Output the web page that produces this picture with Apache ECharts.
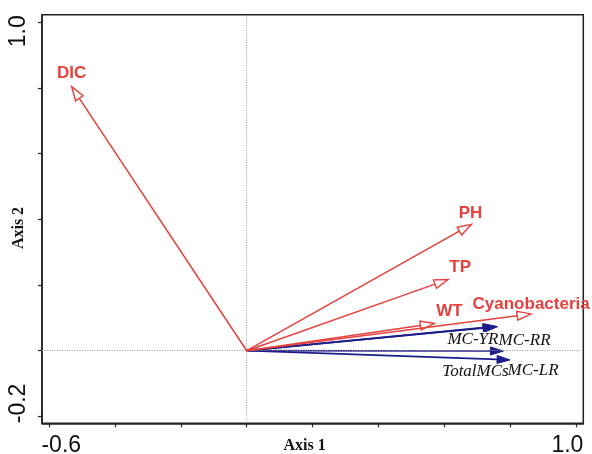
<!DOCTYPE html>
<html>
<head>
<meta charset="utf-8">
<script src="https://cdn.jsdelivr.net/npm/echarts@6/dist/echarts.min.js"></script>
<style>html,body{margin:0;padding:0;background:#fff;}#c{width:592px;height:454px;}</style>
</head>
<body>
<div id="c"></div>
<script>
// ---- data ----
const envNames = ['DIC', 'PH', 'TP', 'WT', 'Cyanobacteria'];
const envAxis1 = [-0.532, 0.683, 0.612, 0.570, 0.864];
const envAxis2 = [0.804, 0.385, 0.217, 0.083, 0.112];

const mcNames = ['MC-YR', 'MC-RR', 'TotalMCs', 'MC-LR'];
const mcAxis1 = [0.757, 0.762, 0.780, 0.800];
const mcAxis2 = [0.074, 0.073, -0.001, -0.028];

const xTickValues = [-0.6, -0.4, -0.2, 0.0, 0.2, 0.4, 0.6, 0.8, 1.0];
const xTickLabels = [-0.6, 1.0];
const yTickValues = [-0.2, 0.0, 0.2, 0.4, 0.6, 0.8, 1.0];
const yTickLabels = [-0.2, 1.0];

// ---- layout / style (pixels) ----
const envLabelOffsets = [[0, -13.5], [-1, -11], [12, -12], [15, -12], [0, -10]];
const mcLabelOffsets = [[-23, 13.5], [27, 13.5], [-28, 20], [23, 11]];

const RED = '#e5413d';
const BLUE = '#1d1d8a';

function makeRender(names, offsets, color, open, font) {
  return function (params, api) {
    const i = params.dataIndex;
    const o = api.coord([0, 0]);
    const e = api.coord([api.value(0), api.value(1)]);
    const dx = e[0] - o[0], dy = e[1] - o[1];
    const len = Math.sqrt(dx * dx + dy * dy);
    const ux = dx / len, uy = dy / len;
    const nx = -uy, ny = ux;
    const hl = open ? 14 : 13, hw = open ? 4.5 : 4;
    const bx = e[0] - ux * hl, by = e[1] - uy * hl;
    const off = offsets[i];
    return {
      type: 'group',
      children: [
        { type: 'line', shape: { x1: o[0], y1: o[1], x2: bx, y2: by },
          style: { stroke: color, lineWidth: open ? 1.5 : 1.7 } },
        { type: 'polygon', shape: { points: [[e[0], e[1]], [bx + nx * hw, by + ny * hw], [bx - nx * hw, by - ny * hw]] },
          style: { fill: open ? '#fff' : color, stroke: color, lineWidth: open ? 1.4 : 1 } },
        { type: 'text', style: { text: names[i], x: e[0] + off[0], y: e[1] + off[1],
          align: 'center', verticalAlign: 'middle', font: font, fill: open ? color : '#111' } }
      ]
    };
  };
}

const chart = echarts.init(document.getElementById('c'), null, { renderer: 'canvas' });

const option = {
  animation: false,
  backgroundColor: '#fff',
  grid: { left: 42, right: 8.7, top: 14.7, bottom: 30.7, containLabel: false, outerBoundsMode: 'none',
    show: true, borderColor: '#222', borderWidth: 1.5 },
  xAxis: {
    type: 'value', min: -0.622, max: 1.0225,
    name: 'Axis 1', nameLocation: 'middle', nameGap: 15, nameMoveOverlap: false,
    nameTextStyle: { fontFamily: 'Liberation Serif', fontWeight: 'bold', fontSize: 16, color: '#111', padding: [0, 16, 0, 0] },
    axisLine: { show: true, onZero: false, lineStyle: { color: '#222', width: 1.5 } },
    axisTick: { show: true, length: 4, customValues: xTickValues, lineStyle: { color: '#222', width: 1.2 } },
    axisLabel: {
      show: true, customValues: xTickLabels, margin: 11,
      formatter: function (v) { return (v < 0 ? '{l|' : '{r|') + v.toFixed(1) + '}'; },
      rich: {
        l: { fontFamily: 'Liberation Sans', fontSize: 23, color: '#111', padding: [0, 0, 0, 24] },
        r: { fontFamily: 'Liberation Sans', fontSize: 23, color: '#111', padding: [0, 17, 0, 0] }
      }
    },
    splitLine: { show: false }
  },
  yAxis: {
    type: 'value', min: -0.221, max: 1.023,
    name: 'Axis 2', nameLocation: 'middle', nameGap: 15, nameMoveOverlap: false,
    nameTextStyle: { fontFamily: 'Liberation Serif', fontWeight: 'bold', fontSize: 16, color: '#111', padding: [0, 18, 0, 0] },
    axisLine: { show: true, onZero: false, lineStyle: { color: '#222', width: 1.5 } },
    axisTick: { show: true, length: 4, customValues: yTickValues, lineStyle: { color: '#222', width: 1.2 } },
    axisLabel: {
      show: true, customValues: yTickLabels, margin: 12, rotate: 90,
      formatter: function (v) { return (v < 0 ? '{l|' : '{r|') + v.toFixed(1) + '}'; },
      rich: {
        l: { fontFamily: 'Liberation Sans', fontSize: 23, color: '#111', padding: [0, 0, 0, 26] },
        r: { fontFamily: 'Liberation Sans', fontSize: 23, color: '#111', padding: [0, 18, 0, 0] }
      }
    },
    splitLine: { show: false }
  },
  series: [
    {
      type: 'scatter', data: [[0, 0]], symbolSize: 0, silent: true, z: 1,
      markLine: {
        silent: true, symbol: 'none', animation: false,
        label: { show: false },
        lineStyle: { type: [1, 1.5], color: '#9a9a9a', width: 1 },
        data: [{ xAxis: 0 }, { yAxis: 0 }]
      }
    },
    {
      type: 'custom', clip: false, z: 5,
      data: envNames.map((n, i) => [envAxis1[i], envAxis2[i]]),
      renderItem: makeRender(envNames, envLabelOffsets, RED, true, 'bold 17px "Liberation Sans", Arial, sans-serif')
    },
    {
      type: 'custom', clip: false, z: 4,
      data: mcNames.map((n, i) => [mcAxis1[i], mcAxis2[i]]),
      renderItem: makeRender(mcNames, mcLabelOffsets, BLUE, false, 'italic 17px "Liberation Serif", "Times New Roman", serif')
    }
  ]
};
chart.setOption(option);
</script>
</body>
</html>
